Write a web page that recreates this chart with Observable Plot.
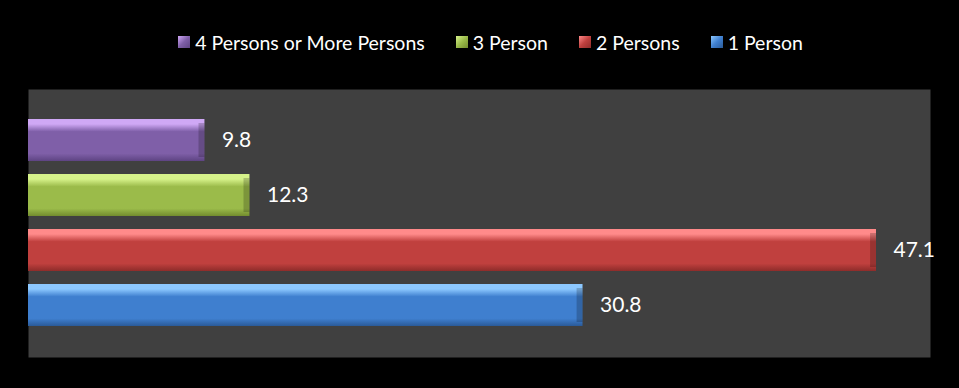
<!DOCTYPE html>
<html>
<head>
<meta charset="utf-8">
<script src="https://cdn.jsdelivr.net/npm/d3@7"></script>
<script src="https://cdn.jsdelivr.net/npm/@observablehq/plot@0.6"></script>
<style>
  html, body { margin: 0; padding: 0; background: #000; }
  body { width: 959px; height: 388px; overflow: hidden; font-family: Lato, "Open Sans", sans-serif; }
  #legend { height: 84px; display: flex; justify-content: center; align-items: center; gap: 31px; padding-left: 22px; box-sizing: border-box; color: #fff; font-size: 19.5px; }
  .item { display: flex; align-items: center; gap: 5px; }
  .sw { width: 12px; height: 12px; }
  #chart svg { display: block; }
</style>
</head>
<body>
<div id="legend"></div>
<div id="chart"></div>
<script>
const categories = ["4 Persons or More Persons", "3 Person", "2 Persons", "1 Person"];
const values = [9.8, 12.3, 47.1, 30.8];
const legendOrder = ["4 Persons or More Persons", "3 Person", "2 Persons", "1 Person"];
const baseColors = ["#7f5fa8", "#9bbb4a", "#c0403e", "#3f7fcf"];
const lightColors = ["#cfa8f5", "#d6f28a", "#ff8a8a", "#8cc8ff"];
const darkColors = ["#5e4483", "#728c2e", "#8e2c2a", "#2a5a98"];

const data = categories.map((c, i) => ({category: c, value: values[i]}));
const gradIds = categories.map((c, i) => "grad" + i);

// legend
const legend = d3.select("#legend");
legendOrder.forEach(c => {
  const i = categories.indexOf(c);
  const it = legend.append("div").attr("class", "item");
  it.append("div").attr("class", "sw")
    .style("background", `linear-gradient(135deg, ${lightColors[i]}, ${baseColors[i]} 50%, ${darkColors[i]})`);
  it.append("span").text(c);
});

const svg = Plot.plot({
  width: 959,
  height: 304,
  marginLeft: 28,
  marginRight: 29,
  marginTop: 5,
  marginBottom: 31,
  style: {background: "#000", fontFamily: "Lato, 'Open Sans', sans-serif"},
  x: {domain: [0, 50.1], axis: null},
  y: {domain: categories, axis: null, paddingInner: 0.236, paddingOuter: 0.554},
  color: {type: "ordinal", domain: categories, range: gradIds.map(id => `url(#${id})`)},
  marks: [
    Plot.frame({fill: "#404040", stroke: null}),
    Plot.barX(data, {x: "value", y: "category", fill: "category", insetBottom: -3, fillOpacity: 0}),
    Plot.barX(data, {x: "value", y: "category", fill: "category"}),
    Plot.barX(data, {x1: d => d.value - 0.33, x2: "value", y: "category", fill: "#000", fillOpacity: 0.2, insetTop: 4, insetBottom: 4}),
    Plot.text(data, {x: "value", y: "category", text: d => d.value.toFixed(1), dx: 17, textAnchor: "start", fill: "#fff", fontSize: 21})
  ]
});

const defs = d3.select(svg).insert("defs", ":first-child");
categories.forEach((c, i) => {
  const g = defs.append("linearGradient").attr("id", gradIds[i]).attr("x1", 0).attr("y1", 0).attr("x2", 0).attr("y2", 1);
  g.append("stop").attr("offset", "0").attr("stop-color", lightColors[i]);
  g.append("stop").attr("offset", "0.12").attr("stop-color", lightColors[i]);
  g.append("stop").attr("offset", "0.3").attr("stop-color", baseColors[i]);
  g.append("stop").attr("offset", "0.82").attr("stop-color", baseColors[i]);
  g.append("stop").attr("offset", "1").attr("stop-color", darkColors[i]);
});

document.getElementById("chart").appendChild(svg);
</script>
</body>
</html>
